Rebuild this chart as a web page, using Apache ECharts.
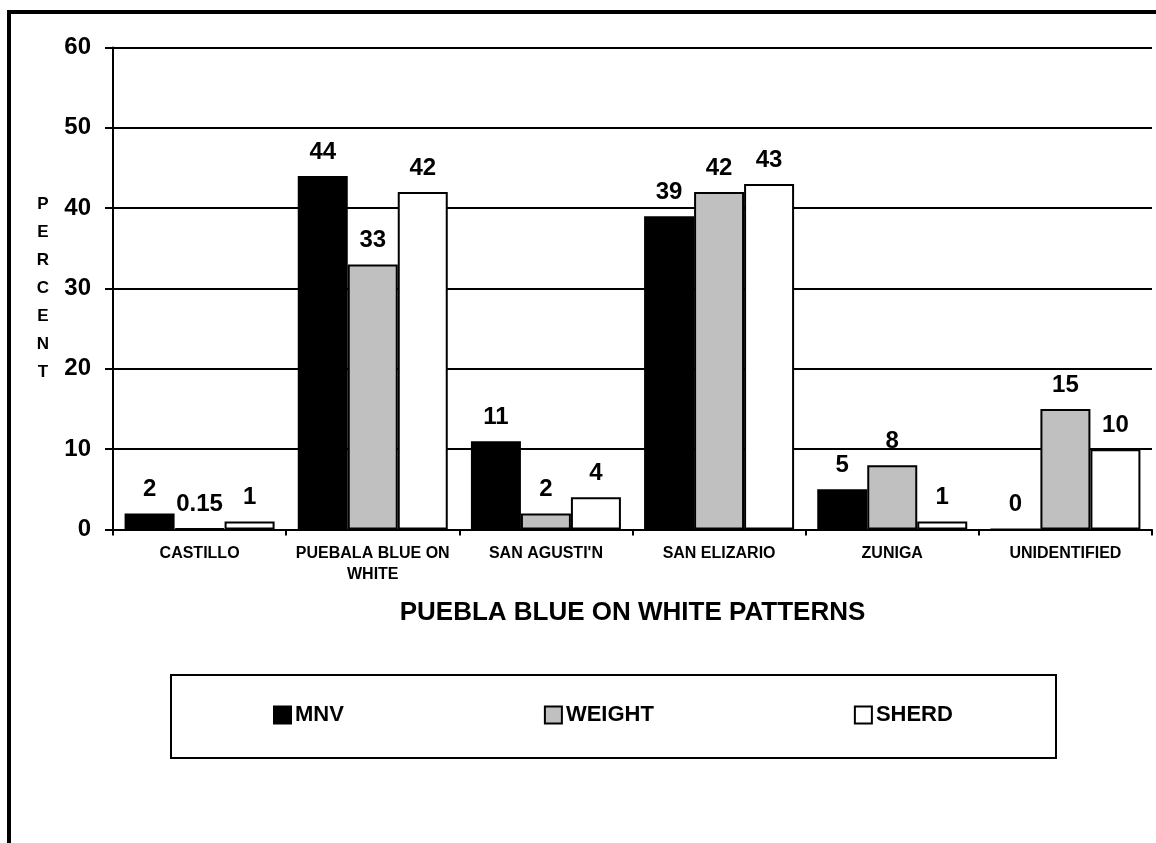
<!DOCTYPE html>
<html>
<head>
<meta charset="utf-8">
<script src="https://cdn.jsdelivr.net/npm/echarts@6/dist/echarts.min.js"></script>
<style>
  html, body { margin: 0; padding: 0; background: #fff; }
  #chart { width: 1156px; height: 843px; }
</style>
</head>
<body>
<div id="chart"></div>
<script>
// Pattern categories along the x axis
const categories = ['CASTILLO', 'PUEBALA BLUE ON\nWHITE', "SAN AGUSTI'N", 'SAN ELIZARIO', 'ZUNIGA', 'UNIDENTIFIED'];
// Percent by counting method
const mnv    = [2, 44, 11, 39, 5, 0];
const weight = [0.15, 33, 2, 42, 8, 15];
const sherd  = [1, 42, 4, 43, 1, 10];
const yTicks = [0, 10, 20, 30, 40, 50, 60];

const FONT = "'Liberation Sans', Arial, sans-serif";

function barSeries(name, data, color) {
  return {
    name: name,
    type: 'bar',
    data: data,
    barWidth: 50,
    barGap: '0%',
    itemStyle: { color: color, borderColor: '#000', borderWidth: 2 },
    label: {
      show: true,
      position: 'top',
      distance: 12,
      fontFamily: FONT,
      fontWeight: 'bold',
      fontSize: 24,
      color: '#000'
    }
  };
}

const chart = echarts.init(document.getElementById('chart'), null, { renderer: 'canvas' });
chart.setOption({
  animation: false,
  backgroundColor: '#fff',
  grid: { left: 113, right: 4, top: 47.5, bottom: 313.5, containLabel: false },
  xAxis: {
    type: 'category',
    data: categories,
    name: 'PUEBLA BLUE ON WHITE PATTERNS',
    nameLocation: 'middle',
    nameGap: 70,
    nameTextStyle: { fontFamily: FONT, fontWeight: 'bold', fontSize: 26, color: '#000', lineHeight: 26 },
    axisLine: { lineStyle: { color: '#000', width: 2 } },
    axisTick: { show: true, length: 6, lineStyle: { color: '#000', width: 2 } },
    axisLabel: {
      interval: 0,
      margin: 14,
      fontFamily: FONT,
      fontWeight: 'bold',
      fontSize: 16,
      lineHeight: 21,
      color: '#000'
    }
  },
  yAxis: {
    type: 'value',
    min: yTicks[0],
    max: yTicks[yTicks.length - 1],
    interval: 10,
    name: 'PERCENT'.split('').join('\n'),
    nameLocation: 'middle',
    nameRotate: 0,
    nameGap: 70,
    nameTextStyle: { fontFamily: FONT, fontWeight: 'bold', fontSize: 17, lineHeight: 28, color: '#000', align: 'center' },
    axisLine: { show: true, lineStyle: { color: '#000', width: 2 } },
    axisTick: { show: true, length: 8, lineStyle: { color: '#000', width: 2 } },
    splitLine: { show: true, lineStyle: { color: '#000', width: 2 } },
    axisLabel: {
      margin: 22,
      fontFamily: FONT,
      fontWeight: 'bold',
      fontSize: 24,
      color: '#000'
    }
  },
  legend: {
    left: 273,
    top: 704,
    padding: 0,
    itemGap: 200,
    itemWidth: 17,
    itemHeight: 17,
    icon: 'rect',
    textStyle: { fontFamily: FONT, fontWeight: 'bold', fontSize: 22, lineHeight: 22, color: '#000', padding: [0, 0, 0, -1] }
  },
  graphic: [
    {
      // outer frame
      type: 'rect',
      silent: true,
      shape: { x: 9, y: 12, width: 1300, height: 1000 },
      style: { fill: 'none', stroke: '#000', lineWidth: 4 }
    },
    {
      // legend box
      type: 'rect',
      silent: true,
      shape: { x: 171, y: 675, width: 885, height: 83 },
      style: { fill: 'none', stroke: '#000', lineWidth: 2 }
    }
  ],
  series: [
    barSeries('MNV', mnv, '#000000'),
    barSeries('WEIGHT', weight, '#c0c0c0'),
    barSeries('SHERD', sherd, '#ffffff')
  ]
});
</script>
</body>
</html>
